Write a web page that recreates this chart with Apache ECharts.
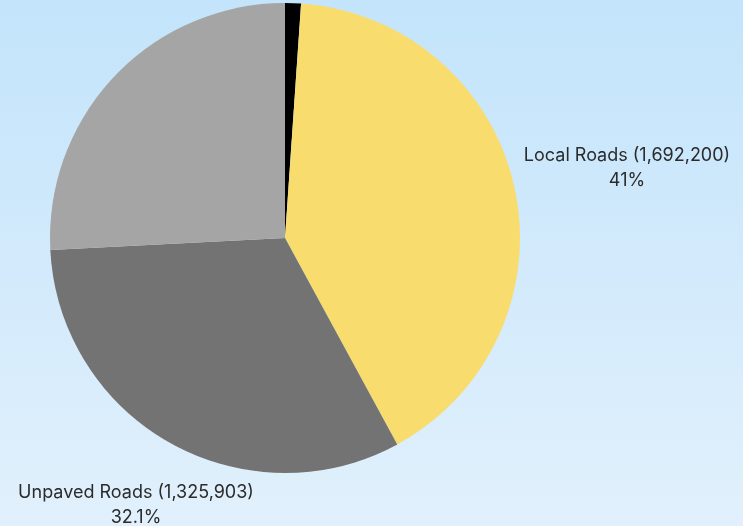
<!DOCTYPE html>
<html>
<head>
<meta charset="utf-8">
<script src="https://cdn.jsdelivr.net/npm/echarts@6/dist/echarts.min.js"></script>
<style>
html,body{margin:0;padding:0;}
#chart{width:743px;height:526px;background:linear-gradient(to bottom,#c3e4fb 0%,#e1f0fc 100%);}
</style>
</head>
<body>
<div id="chart"></div>
<script>
// Data (clockwise from 12 o'clock)
const categories = ["Highways", "Local Roads", "Unpaved Roads", "Collector Roads"];
const values = [45000, 1692200, 1325903, 1066000];
const colors = ["#000000", "#f9dc6e", "#737373", "#a5a5a5"];
const labeled = [false, true, true, false];
const labelPos = { "Local Roads": [627, 168], "Unpaved Roads": [136, 505] };

const chart = echarts.init(document.getElementById('chart'), null, { renderer: 'canvas' });
chart.setOption({
  backgroundColor: 'transparent',
  animation: false,
  series: [{
    type: 'pie',
    center: [285, 238],
    radius: [0, 235],
    startAngle: 90,
    clockwise: true,
    avoidLabelOverlap: false,
    data: categories.map((c, i) => ({
      name: c, value: values[i],
      itemStyle: { color: colors[i] },
      label: { show: labeled[i] }
    })),
    itemStyle: { borderWidth: 0 },
    label: {
      position: 'outside',
      fontFamily: 'Inter',
      fontSize: 18,
      color: '#2b2b2b',
      lineHeight: 25,
      align: 'center',
      formatter: p => p.name + ' (' + p.value.toLocaleString('en-US') + ')\n' + Number(p.percent.toFixed(1)) + '%'
    },
    labelLine: { show: false },
    labelLayout: function (params) {
      const name = categories[params.dataIndex];
      const pos = labelPos[name];
      if (!pos) return {};
      return { x: pos[0], y: pos[1], align: 'center', verticalAlign: 'middle' };
    }
  }]
});
</script>
</body>
</html>
